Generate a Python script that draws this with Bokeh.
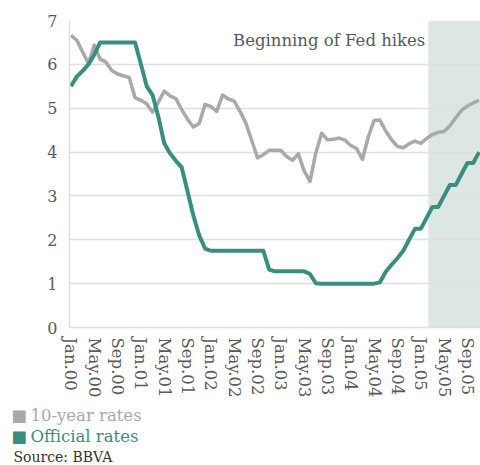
from bokeh.plotting import figure
from bokeh.models import FixedTicker, BoxAnnotation, Label, Range1d, ColumnDataSource, Title
from bokeh.embed import file_html
from bokeh.resources import INLINE

# ---------------- data ----------------
MON = ["Jan", "Feb", "Mar", "Apr", "May", "Jun", "Jul", "Aug", "Sep", "Oct", "Nov", "Dec"]
months = [f"{m}.{y:02d}" for y in range(6) for m in MON][:71]   # Jan.00 .. Nov.05

ten_year = [
    6.66, 6.55, 6.28, 6.02, 6.44, 6.12, 6.05, 5.86, 5.78, 5.74, 5.70, 5.24,   # 2000
    5.18, 5.10, 4.91, 5.14, 5.39, 5.28, 5.22, 4.97, 4.75, 4.57, 4.65, 5.09,   # 2001
    5.04, 4.93, 5.30, 5.21, 5.16, 4.93, 4.66, 4.27, 3.87, 3.94, 4.04, 4.04,   # 2002
    4.04, 3.90, 3.81, 3.96, 3.57, 3.33, 3.98, 4.43, 4.28, 4.29, 4.32, 4.27,   # 2003
    4.15, 4.08, 3.83, 4.35, 4.72, 4.73, 4.48, 4.28, 4.13, 4.10, 4.19, 4.25,   # 2004
    4.20, 4.31, 4.40, 4.45, 4.47, 4.60, 4.78, 4.95, 5.05, 5.12, 5.18,         # 2005
]
official = [
    5.50, 5.72, 5.85, 6.00, 6.22, 6.50, 6.50, 6.50, 6.50, 6.50, 6.50, 6.50,   # 2000
    6.00, 5.50, 5.30, 4.80, 4.20, 3.97, 3.80, 3.65, 3.10, 2.55, 2.10, 1.80,   # 2001
    1.75, 1.75, 1.75, 1.75, 1.75, 1.75, 1.75, 1.75, 1.75, 1.75, 1.32, 1.28,   # 2002
    1.28, 1.28, 1.28, 1.28, 1.28, 1.22, 1.01, 1.00, 1.00, 1.00, 1.00, 1.00,   # 2003
    1.00, 1.00, 1.00, 1.00, 1.00, 1.03, 1.27, 1.43, 1.58, 1.75, 2.00, 2.25,   # 2004
    2.25, 2.50, 2.75, 2.75, 3.00, 3.25, 3.25, 3.50, 3.75, 3.75, 4.00,         # 2005
]
tick_labels = ["Jan.00", "May.00", "Sep.00", "Jan.01", "May.01", "Sep.01",
               "Jan.02", "May.02", "Sep.02", "Jan.03", "May.03", "Sep.03",
               "Jan.04", "May.04", "Sep.04", "Jan.05", "May.05", "Sep.05"]
y_ticks = [0, 1, 2, 3, 4, 5, 6, 7]
hikes_start = 61.3          # start of the shaded "Fed hikes" period (month index)
annotation_text = "Beginning of Fed hikes"
series_names = ["10-year rates", "Official rates"]
source_text = "Source: BBVA"

# ---------------- styles ----------------
GRAY = "#a9a9a9"
TEAL = "#3a8e80"
SHADE = "#dce7e3"
GRID = "#dedede"
TXT = "#595959"
SERIF = "DejaVu Serif"

src = ColumnDataSource(dict(x=list(range(len(months))), ten=ten_year, off=official))

p = figure(width=480, height=465, output_backend="svg", toolbar_location=None,
           x_range=Range1d(-0.25, 70.25), y_range=Range1d(0, 7),
           min_border_left=69, min_border_right=0, min_border_top=20,
           min_border_bottom=138)
p.outline_line_color = None
p.background_fill_color = "white"
p.border_fill_color = "white"

shade = BoxAnnotation(left=hikes_start, fill_color=SHADE, fill_alpha=1.0,
                      line_color=None, level="image")
p.add_layout(shade)

p.xgrid.visible = False
p.ygrid.ticker = FixedTicker(ticks=y_ticks)
p.ygrid.grid_line_color = GRID
p.ygrid.grid_line_width = 1.5

tick_pos = [months.index(t) for t in tick_labels]
xa = p.xaxis[0]
xa.ticker = FixedTicker(ticks=tick_pos)
xa.major_label_overrides = {pos: lab for pos, lab in zip(tick_pos, tick_labels)}
xa.major_label_orientation = "vertical"
xa.major_label_text_font = SERIF
xa.major_label_text_font_size = "16.5px"
xa.major_label_text_color = TXT
xa.axis_line_color = GRID
xa.axis_line_width = 1.5
xa.major_tick_line_color = None
xa.minor_tick_line_color = None
xa.major_tick_out = 0
xa.major_tick_in = 0
xa.major_label_standoff = 10

ya = p.yaxis[0]
ya.ticker = FixedTicker(ticks=y_ticks)
ya.major_label_text_font = SERIF
ya.major_label_text_font_size = "16px"
ya.major_label_text_color = TXT
ya.axis_line_color = GRID
ya.axis_line_width = 1.5
ya.major_tick_line_color = None
ya.minor_tick_line_color = None
ya.major_tick_out = 0
ya.major_tick_in = 0
ya.major_label_standoff = 12

p.line("x", "ten", source=src, line_color=GRAY, line_width=3.5, line_join="round")
p.line("x", "off", source=src, line_color=TEAL, line_width=4, line_join="round")

p.add_layout(Label(x=hikes_start, y=7, text=annotation_text, text_align="right",
                   text_baseline="top", x_offset=-3, y_offset=-10,
                   text_font=SERIF, text_font_size="16.5px", text_color=TXT))

# ---------------- legend + source below the chart (stacked titles) ----------------
def below_title(text, color, size, standoff, offset):
    return Title(text=text, align="left", offset=offset, vertical_align="bottom",
                 standoff=standoff, text_font=SERIF, text_font_size=size,
                 text_font_style="normal", text_color=color)

p.add_layout(Title(text=" ", text_font_size="1px", standoff=0), "below")   # spacer
for name, col in zip(series_names, [GRAY, TEAL]):
    p.add_layout(below_title("\u25a0\u2009" + name, col, "16.5px", 0, -58), "below")
p.add_layout(below_title(source_text, "#333333", "14px", 2, -56), "below")

open("out.html", "w").write(file_html(p, INLINE))
